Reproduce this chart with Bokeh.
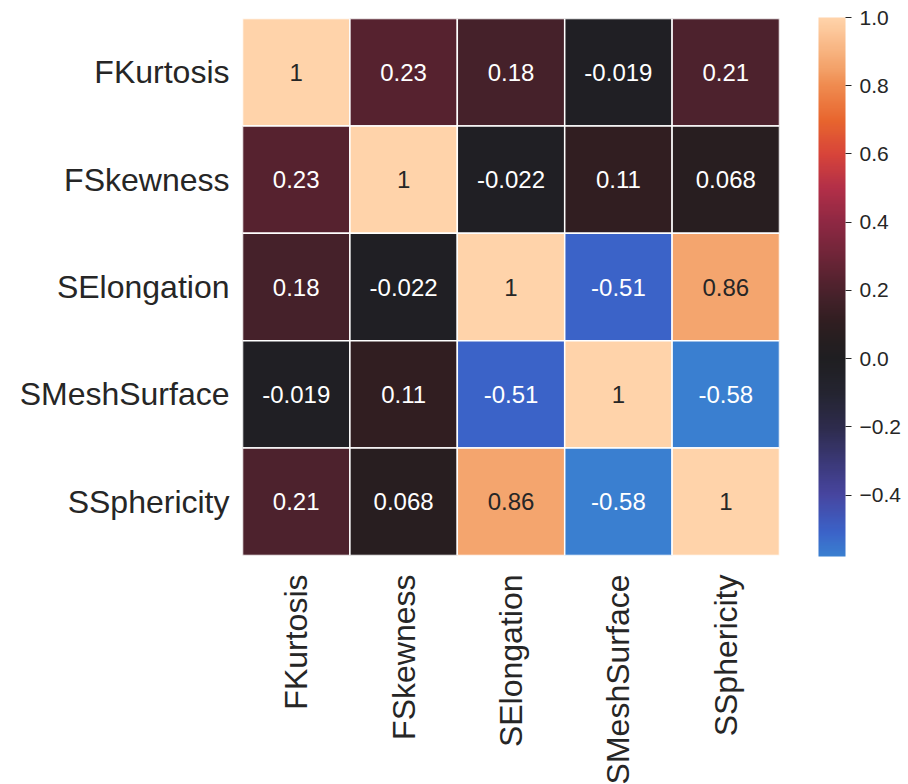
import math
from bokeh.plotting import figure
from bokeh.models import (ColumnDataSource, LinearColorMapper, ColorBar, FixedTicker,
                          CustomJSTickFormatter, FactorRange)
from bokeh.transform import transform
from bokeh.core.properties import value
from bokeh.embed import file_html
from bokeh.resources import INLINE

# ---- data ----
features = ["FKurtosis", "FSkewness", "SElongation", "SMeshSurface", "SSphericity"]
row_FKurtosis = [1.0, 0.23, 0.18, -0.019, 0.21]
row_FSkewness = [0.23, 1.0, -0.022, 0.11, 0.068]
row_SElongation = [0.18, -0.022, 1.0, -0.51, 0.86]
row_SMeshSurface = [-0.019, 0.11, -0.51, 1.0, -0.58]
row_SSphericity = [0.21, 0.068, 0.86, -0.58, 1.0]
colorbar_ticks = [-0.4, -0.2, 0.0, 0.2, 0.4, 0.6, 0.8, 1.0]
vmin, vmax = -0.58, 1.0

rows = [row_FKurtosis, row_FSkewness, row_SElongation, row_SMeshSurface, row_SSphericity]

# ---- colormap (icefire-like, recentred on 0) ----
stops = [
    (-0.58, "#3A7FD0"), (-0.51, "#3B62C8"), (-0.4, "#47459F"), (-0.2, "#2D2B4B"),
    (-0.1, "#242430"), (0.0, "#1F1E21"), (0.068, "#281E20"), (0.11, "#311E21"),
    (0.18, "#44212A"), (0.23, "#55222F"), (0.3, "#6E2538"), (0.4, "#8E2843"),
    (0.5, "#B22F48"), (0.6, "#D7443A"), (0.7, "#E8652E"), (0.8, "#EF8A4E"),
    (0.86, "#F4A46C"), (1.0, "#FFD3AA"),
]

def hex2rgb(h):
    h = h.lstrip("#")
    return tuple(int(h[i:i + 2], 16) for i in (0, 2, 4))

def color_at(v):
    for (v0, c0), (v1, c1) in zip(stops[:-1], stops[1:]):
        if v <= v1:
            t = (v - v0) / (v1 - v0) if v1 > v0 else 0
            t = min(max(t, 0), 1)
            a, b = hex2rgb(c0), hex2rgb(c1)
            return tuple(round(a[i] + (b[i] - a[i]) * t) for i in range(3))
    return hex2rgb(stops[-1][1])

N = 256
palette = ["#%02x%02x%02x" % color_at(vmin + (vmax - vmin) * i / (N - 1)) for i in range(N)]
mapper = LinearColorMapper(palette=palette, low=vmin, high=vmax)

def lum(rgb):
    def ch(c):
        c = c / 255
        return c / 12.92 if c <= 0.03928 else ((c + 0.055) / 1.055) ** 2.4
    r, g, b = (ch(c) for c in rgb)
    return 0.2126 * r + 0.7152 * g + 0.0722 * b

xs, ys, vals, labels, tcolors = [], [], [], [], []
for rname, row in zip(features, rows):
    for cname, v in zip(features, row):
        xs.append(cname)
        ys.append(rname)
        vals.append(v)
        labels.append(f"{v:.2g}")
        tcolors.append("#262626" if lum(color_at(v)) > 0.408 else "#FFFFFF")

src = ColumnDataSource(dict(x=xs, y=ys, v=vals, label=labels, tc=tcolors))

FONT = "Liberation Sans"
FW, FH = 537, 537

p = figure(x_range=FactorRange(*features), y_range=FactorRange(*features[::-1]),
           frame_width=FW, frame_height=FH, min_border_left=242, min_border_top=18,
           min_border_bottom=215, min_border_right=125,
           output_backend="svg", toolbar_location=None, tools="")
p.outline_line_color = None
p.grid.grid_line_color = None
p.background_fill_color = "white"

p.rect(x="x", y="y", width=1, height=1, source=src,
       fill_color=transform("v", mapper), line_color="white", line_width=1.5)
p.text(x="x", y="y", text="label", source=src, text_color="tc",
       text_align="center", text_baseline="middle",
       text_font=value(FONT), text_font_size="24px")

for ax in (p.xaxis, p.yaxis):
    ax.axis_line_color = None
    ax.major_tick_line_color = None
    ax.minor_tick_line_color = None
    ax.major_label_text_font = FONT
    ax.major_label_text_font_size = "32px"
    ax.major_label_text_color = "#262626"

p.xaxis.major_label_orientation = math.pi / 2
p.xaxis.major_label_standoff = 13
p.yaxis.major_label_standoff = 7

cb = ColorBar(color_mapper=mapper, width=27, height=539, padding=0, margin=0,
              location=(FW + 39, -1),
              ticker=FixedTicker(ticks=colorbar_ticks),
              formatter=CustomJSTickFormatter(code="return (tick < -1e-9 ? '\u2212' : '') + Math.abs(tick).toFixed(1);"),
              major_label_text_font=FONT, major_label_text_font_size="21px",
              major_label_text_color="#262626", major_tick_out=6, major_tick_in=0,
              major_tick_line_color="#262626", bar_line_color=None, border_line_color=None,
              label_standoff=8, background_fill_color=None)
p.add_layout(cb, "center")

open("out.html", "w").write(file_html(p, INLINE))
